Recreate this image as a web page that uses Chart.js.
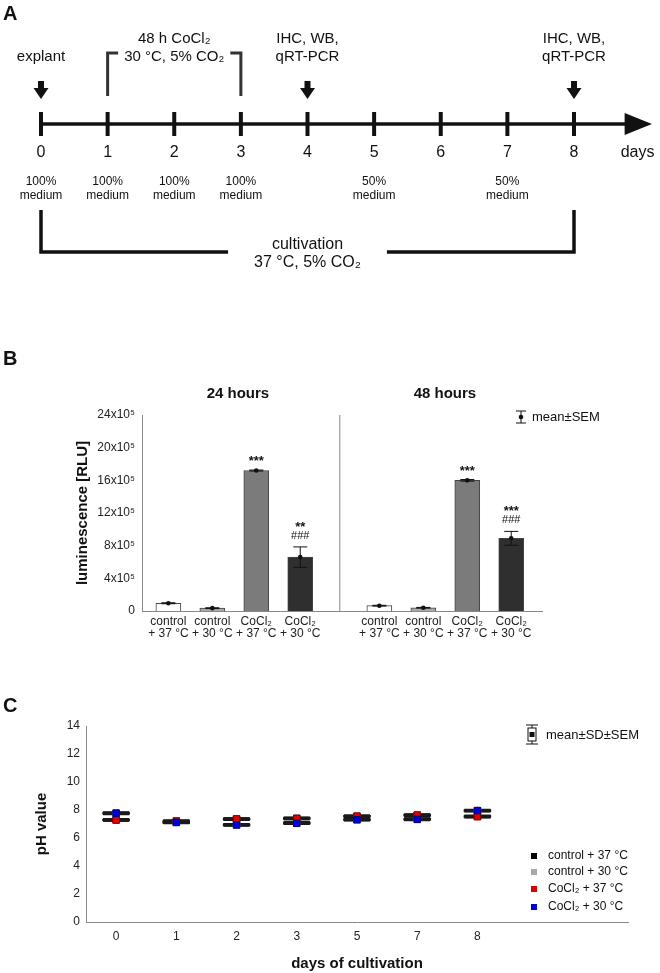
<!DOCTYPE html>
<html>
<head>
<meta charset="utf-8">
<script src="https://cdn.jsdelivr.net/npm/chart.js@4.4.0/dist/chart.umd.min.js"></script>
<style>
  body { margin: 0; background: #fff; width: 660px; height: 973px; position: relative; overflow: hidden; }
  canvas { position: absolute; left: 0; }
  .panel { position: absolute; left: 3px; font: bold 20px "Liberation Sans", Arial, sans-serif; line-height: 20px; color: #111; }
</style>
</head>
<body>
<canvas id="timeline" width="660" height="290" style="top:0"></canvas>
<canvas id="lumi" width="660" height="330" style="top:330px"></canvas>
<canvas id="ph" width="660" height="293" style="top:680px"></canvas>
<div class="panel" style="top:3px">A</div>
<div class="panel" style="top:348px">B</div>
<div class="panel" style="top:695px">C</div>
<script>
const FONT = '"Liberation Sans", Arial, sans-serif';
const NARROW = '"Liberation Sans Narrow", "Liberation Sans", Arial, sans-serif';

// A: experiment timeline
const timelineDays = [0, 1, 2, 3, 4, 5, 6, 7, 8];
const mediumDays = [0, 1, 2, 3, 5, 7];
const mediumShare = ['100%', '100%', '100%', '100%', '50%', '50%'];
const sampleDays = [0, 4, 8];
const sampleLabels = [['explant'], ['IHC, WB,', 'qRT-PCR'], ['IHC, WB,', 'qRT-PCR']];
const treatmentSpan = [1, 3];
const treatmentLabel = ['48 h CoCl₂', '30 °C, 5% CO₂'];
const cultivationSpan = [0, 8];
const cultivationLabel = ['cultivation', '37 °C, 5% CO₂'];

// B: luminescence
const lumiGroups = ['24 hours', '48 hours'];
const lumiConditions = [['control', '+ 37 °C'], ['control', '+ 30 °C'], ['CoCl₂', '+ 37 °C'], ['CoCl₂', '+ 30 °C']];
const lumi24Mean = [0.95e5, 0.35e5, 17.2e5, 6.6e5];
const lumi24Sem = [0.06e5, 0.05e5, 0.06e5, 1.25e5];
const lumi48Mean = [0.65e5, 0.4e5, 16.0e5, 8.9e5];
const lumi48Sem = [0.05e5, 0.04e5, 0.1e5, 0.85e5];
const lumi24Sig = [[], [], ['***'], ['**', '###']];
const lumi48Sig = [[], [], ['***'], ['***', '###']];
const lumiMax = 24e5;
const lumiStep = 4e5;
const barFill = ['#ffffff', '#a9a9a9', '#7b7b7b', '#2f2f2f'];

// C: pH
const phDays = ['0', '1', '2', '3', '5', '7', '8'];
const phSeries = ['control + 37 °C', 'control + 30 °C', 'CoCl₂ + 37 °C', 'CoCl₂ + 30 °C'];
const phCtrl37 = [7.30, 7.15, 7.35, 7.40, 7.55, 7.62, 7.55];
const phCtrl30 = [7.75, 7.10, 6.95, 7.08, 7.32, 7.35, 7.95];
const phCo37 = [7.28, 7.22, 7.36, 7.40, 7.56, 7.64, 7.52];
const phCo30 = [7.78, 7.12, 6.93, 7.05, 7.30, 7.33, 7.96];
const phSd = [0.09, 0.08, 0.08, 0.08];
const phSem = [0.04, 0.035, 0.035, 0.035];
const phColors = ['#000000', '#a8a8a8', '#e00000', '#0000dd'];
const phBorders = ['#222222', '#777777', '#8a0000', '#00007a'];

// ---------- A ----------
const timelinePlugin = {
  id: 'timelineDraw',
  afterDatasetsDraw(chart) {
    const { ctx, scales: { x, y } } = chart;
    const y0 = y.getPixelForValue(0);
    const px = d => x.getPixelForValue(d);
    ctx.save();
    ctx.fillStyle = '#111';
    ctx.strokeStyle = '#111';
    ctx.textAlign = 'center';
    ctx.textBaseline = 'middle';

    // axis + arrow head
    ctx.lineWidth = 3.5;
    ctx.beginPath(); ctx.moveTo(px(0), y0); ctx.lineTo(px(8.82), y0); ctx.stroke();
    ctx.beginPath();
    ctx.moveTo(px(8.76), y0 - 11); ctx.lineTo(px(9.17), y0); ctx.lineTo(px(8.76), y0 + 11);
    ctx.closePath(); ctx.fill();

    // day numbers
    ctx.font = '16px ' + NARROW;
    timelineDays.forEach(d => ctx.fillText(String(d), px(d), y0 + 29));
    ctx.textAlign = 'left';
    ctx.fillText('days', px(8.7), y0 + 29);
    ctx.textAlign = 'center';

    // medium exchange
    ctx.font = '12px ' + NARROW;
    mediumDays.forEach((d, i) => {
      ctx.fillText(mediumShare[i], px(d), y0 + 58);
      ctx.fillText('medium', px(d), y0 + 72);
    });

    // sampling arrows
    sampleDays.forEach((d, i) => {
      const cx = px(d);
      ctx.fillRect(cx - 3, y0 - 43, 6, 8);
      ctx.beginPath();
      ctx.moveTo(cx - 7.5, y0 - 36); ctx.lineTo(cx + 7.5, y0 - 36); ctx.lineTo(cx, y0 - 25);
      ctx.closePath(); ctx.fill();
      ctx.font = '15px ' + NARROW;
      const lines = sampleLabels[i];
      lines.forEach((t, k) => ctx.fillText(t, cx, y0 - 67 - 18 * (lines.length - 1 - k)));
    });

    // CoCl2 treatment bracket
    ctx.font = '15px ' + NARROW;
    const tx1 = px(treatmentSpan[0]), tx2 = px(treatmentSpan[1]), tc = (tx1 + tx2) / 2;
    const tw = ctx.measureText(treatmentLabel[1]).width / 2 + 6;
    ctx.strokeStyle = '#333';
    ctx.lineWidth = 3;
    ctx.beginPath();
    ctx.moveTo(tx1, y0 - 28); ctx.lineTo(tx1, y0 - 71); ctx.lineTo(tc - tw, y0 - 71);
    ctx.moveTo(tc + tw, y0 - 71); ctx.lineTo(tx2, y0 - 71); ctx.lineTo(tx2, y0 - 28);
    ctx.stroke();
    ctx.fillText(treatmentLabel[0], tc, y0 - 85);
    ctx.fillText(treatmentLabel[1], tc, y0 - 67);

    // cultivation bracket
    ctx.font = '16px ' + NARROW;
    const cx1 = px(cultivationSpan[0]), cx2 = px(cultivationSpan[1]), cc = (cx1 + cx2) / 2;
    const cw = Math.max(...cultivationLabel.map(t => ctx.measureText(t).width)) / 2 + 26;
    ctx.strokeStyle = '#111';
    ctx.lineWidth = 3.5;
    ctx.beginPath();
    ctx.moveTo(cx1, y0 + 86); ctx.lineTo(cx1, y0 + 128); ctx.lineTo(cc - cw, y0 + 128);
    ctx.moveTo(cc + cw, y0 + 128); ctx.lineTo(cx2, y0 + 128); ctx.lineTo(cx2, y0 + 86);
    ctx.stroke();
    ctx.fillText(cultivationLabel[0], cc, y0 + 121);
    ctx.fillText(cultivationLabel[1], cc, y0 + 139);
    ctx.restore();
  }
};

new Chart(document.getElementById('timeline'), {
  type: 'scatter',
  data: {
    datasets: [{
      data: timelineDays.map(d => ({ x: d, y: 0 })),
      pointStyle: 'line',
      rotation: 90,
      radius: 12,
      borderWidth: 4,
      borderColor: '#111',
      clip: false
    }]
  },
  options: {
    responsive: false,
    animation: false,
    events: [],
    layout: { padding: { left: 41, right: 86, top: 100, bottom: 142 } },
    scales: {
      x: { type: 'linear', min: 0, max: 8, display: false },
      y: { type: 'linear', min: -1, max: 1, display: false }
    },
    plugins: { legend: { display: false }, tooltip: { enabled: false } }
  },
  plugins: [timelinePlugin]
});

// ---------- B ----------
const barPoints = [];
const barSem = [];
const barSig = [];
lumiGroups.forEach((g, gi) => {
  const means = gi ? lumi48Mean : lumi24Mean;
  means.forEach((m, i) => barPoints.push({ x: gi * 4.8 + i + 0.6, y: m }));
  barSem.push(...(gi ? lumi48Sem : lumi24Sem));
  barSig.push(...(gi ? lumi48Sig : lumi24Sig));
});
const groupSplit = 4.5;

const lumiPlugin = {
  id: 'lumiDraw',
  afterDatasetsDraw(chart) {
    const { ctx, chartArea: a, scales: { x, y } } = chart;
    ctx.save();
    // divider between time points
    const dx = x.getPixelForValue(groupSplit);
    ctx.strokeStyle = '#888';
    ctx.lineWidth = 1;
    ctx.beginPath(); ctx.moveTo(dx, a.top); ctx.lineTo(dx, a.bottom); ctx.stroke();

    // group titles
    ctx.fillStyle = '#111';
    ctx.font = 'bold 15px ' + FONT;
    ctx.textAlign = 'center';
    ctx.textBaseline = 'middle';
    ctx.fillText(lumiGroups[0], (a.left + dx) / 2 - 3, a.top - 21);
    ctx.fillText(lumiGroups[1], (dx + a.right) / 2 + 4, a.top - 21);

    // error bars + significance
    ctx.strokeStyle = '#111';
    barPoints.forEach((p, i) => {
      const xp = x.getPixelForValue(p.x);
      const ym = y.getPixelForValue(p.y);
      const yt = y.getPixelForValue(p.y + barSem[i]);
      const yb = y.getPixelForValue(p.y - barSem[i]);
      ctx.lineWidth = 1;
      ctx.beginPath();
      ctx.moveTo(xp, yt); ctx.lineTo(xp, yb);
      ctx.moveTo(xp - 7, yt); ctx.lineTo(xp + 7, yt);
      ctx.moveTo(xp - 7, yb); ctx.lineTo(xp + 7, yb);
      ctx.stroke();
      ctx.beginPath(); ctx.arc(xp, ym, 2.3, 0, Math.PI * 2); ctx.fill();
      const lines = barSig[i];
      ctx.textBaseline = 'alphabetic';
      lines.forEach((t, k) => {
        const c = yt - 12 - 11 * (lines.length - 1 - k);
        const star = t[0] === '*';
        ctx.font = star ? 'bold 13px ' + FONT : '11px ' + FONT;
        ctx.fillText(t, xp, c + (star ? 7 : 4));
      });
    });

    // legend
    const lx = a.right - 21, ly = a.top + 2;
    ctx.lineWidth = 1;
    ctx.beginPath();
    ctx.moveTo(lx, ly - 6); ctx.lineTo(lx, ly + 6);
    ctx.moveTo(lx - 5, ly - 6); ctx.lineTo(lx + 5, ly - 6);
    ctx.moveTo(lx - 5, ly + 6); ctx.lineTo(lx + 5, ly + 6);
    ctx.stroke();
    ctx.beginPath(); ctx.arc(lx, ly, 2.3, 0, Math.PI * 2); ctx.fill();
    ctx.font = '13px ' + FONT;
    ctx.textAlign = 'left';
    ctx.textBaseline = 'middle';
    ctx.fillText('mean±SEM', lx + 11, ly);
    ctx.restore();
  }
};

new Chart(document.getElementById('lumi'), {
  type: 'bar',
  data: {
    datasets: [{
      data: barPoints,
      backgroundColor: barFill.concat(barFill),
      borderColor: '#444',
      borderWidth: 1,
      barThickness: 25
    }]
  },
  options: {
    responsive: false,
    animation: false,
    events: [],
    layout: { padding: { left: 70, right: 118, top: 85, bottom: 0 } },
    scales: {
      x: {
        type: 'linear',
        offset: false,
        min: 0,
        max: 9.1,
        grid: { display: false, drawTicks: false, offset: false },
        border: { color: '#888' },
        afterBuildTicks: s => { s.ticks = barPoints.map(p => ({ value: p.x })); },
        afterFit: s => { s.height = 49; },
        ticks: {
          autoSkip: false,
          maxRotation: 0,
          padding: 4,
          color: '#222',
          font: { family: FONT, size: 12, lineHeight: 1.05 },
          callback: (v, i) => lumiConditions[i % 4]
        }
      },
      y: {
        min: 0,
        max: lumiMax,
        grid: { display: false, drawTicks: false },
        border: { color: '#888' },
        afterFit: s => { s.width = 72; },
        ticks: {
          stepSize: lumiStep,
          padding: 7,
          color: '#222',
          font: { family: FONT, size: 12 },
          callback: v => v === 0 ? '0' : (v / 1e5) + 'x10⁵'
        },
        title: {
          display: true,
          text: 'luminescence [RLU]',
          color: '#111',
          font: { family: FONT, size: 15, weight: 'bold' },
          padding: { top: 4, bottom: 0 }
        }
      }
    },
    plugins: { legend: { display: false }, tooltip: { enabled: false } }
  },
  plugins: [lumiPlugin]
});

// ---------- C ----------
const phValues = [phCtrl37, phCtrl30, phCo37, phCo30];

const phPlugin = {
  id: 'phDraw',
  beforeDatasetsDraw(chart) {
    const { ctx, scales: { x, y } } = chart;
    ctx.save();
    ctx.strokeStyle = '#1a1a1a';
    ctx.lineWidth = 1.3;
    phValues.forEach((vals, s) => {
      vals.forEach((v, i) => {
        const xp = x.getPixelForValue(i);
        const ym = y.getPixelForValue(v);
        const sdT = y.getPixelForValue(v + phSd[s]), sdB = y.getPixelForValue(v - phSd[s]);
        const seT = y.getPixelForValue(v + phSem[s]), seB = y.getPixelForValue(v - phSem[s]);
        ctx.beginPath();
        ctx.moveTo(xp - 13, sdT); ctx.lineTo(xp + 13, sdT);
        ctx.moveTo(xp - 13, sdB); ctx.lineTo(xp + 13, sdB);
        ctx.moveTo(xp - 13, ym); ctx.lineTo(xp + 13, ym);
        ctx.stroke();
        ctx.strokeRect(xp - 13, seT, 26, seB - seT);
      });
    });
    ctx.restore();
  },
  afterDatasetsDraw(chart) {
    const { ctx, chartArea: a } = chart;
    ctx.save();
    ctx.fillStyle = '#111';
    ctx.strokeStyle = '#111';
    ctx.textAlign = 'left';
    ctx.textBaseline = 'middle';

    // mean±SD±SEM symbol
    const lx = a.right - 96, ly = a.top + 9;
    ctx.lineWidth = 1;
    ctx.beginPath();
    ctx.moveTo(lx - 6, ly - 10); ctx.lineTo(lx + 6, ly - 10);
    ctx.moveTo(lx - 6, ly + 9); ctx.lineTo(lx + 6, ly + 9);
    ctx.moveTo(lx, ly - 10); ctx.lineTo(lx, ly - 7);
    ctx.moveTo(lx, ly + 6); ctx.lineTo(lx, ly + 9);
    ctx.stroke();
    ctx.strokeRect(lx - 4, ly - 7, 8, 13);
    ctx.fillRect(lx - 2.5, ly - 3, 5, 5);
    ctx.font = '13px ' + FONT;
    ctx.fillText('mean±SD±SEM', lx + 14, ly);

    // series legend
    ctx.font = '12px ' + FONT;
    const rows = [-66, -50, -33, -15];
    phSeries.forEach((name, s) => {
      const ry = a.bottom + rows[s];
      ctx.fillStyle = phColors[s];
      ctx.fillRect(a.right - 97, ry - 3, 6, 6);
      ctx.fillStyle = '#111';
      ctx.fillText(name, a.right - 80, ry);
    });
    ctx.restore();
  }
};

new Chart(document.getElementById('ph'), {
  type: 'line',
  data: {
    labels: phDays.concat(['', '']),
    datasets: phValues.map((vals, s) => ({
      label: phSeries[s],
      data: vals,
      order: phValues.length - s,
      showLine: false,
      pointStyle: 'rect',
      pointRadius: 4.6,
      pointBackgroundColor: phColors[s],
      pointBorderColor: phBorders[s],
      pointBorderWidth: 1
    }))
  },
  options: {
    responsive: false,
    animation: false,
    events: [],
    layout: { padding: { left: 28, right: 32, top: 46, bottom: 0 } },
    scales: {
      x: {
        type: 'category',
        offset: true,
        grid: { display: false, drawTicks: false },
        border: { color: '#888' },
        afterFit: s => { s.height = 51; },
        ticks: { padding: 7, color: '#222', font: { family: FONT, size: 12 } },
        title: {
          display: true,
          text: 'days of cultivation',
          color: '#111',
          font: { family: FONT, size: 15, weight: 'bold' },
          padding: { top: 0, bottom: 0 }
        }
      },
      y: {
        min: 0,
        max: 14,
        grid: { display: false, drawTicks: false },
        border: { color: '#888' },
        afterFit: s => { s.width = 58; },
        ticks: { stepSize: 2, padding: 6, color: '#222', font: { family: FONT, size: 12 } },
        title: {
          display: true,
          text: 'pH value',
          color: '#111',
          font: { family: FONT, size: 15, weight: 'bold' },
          padding: { top: 5, bottom: 0 }
        }
      }
    },
    plugins: { legend: { display: false }, tooltip: { enabled: false } }
  },
  plugins: [phPlugin]
});
</script>
</body>
</html>
